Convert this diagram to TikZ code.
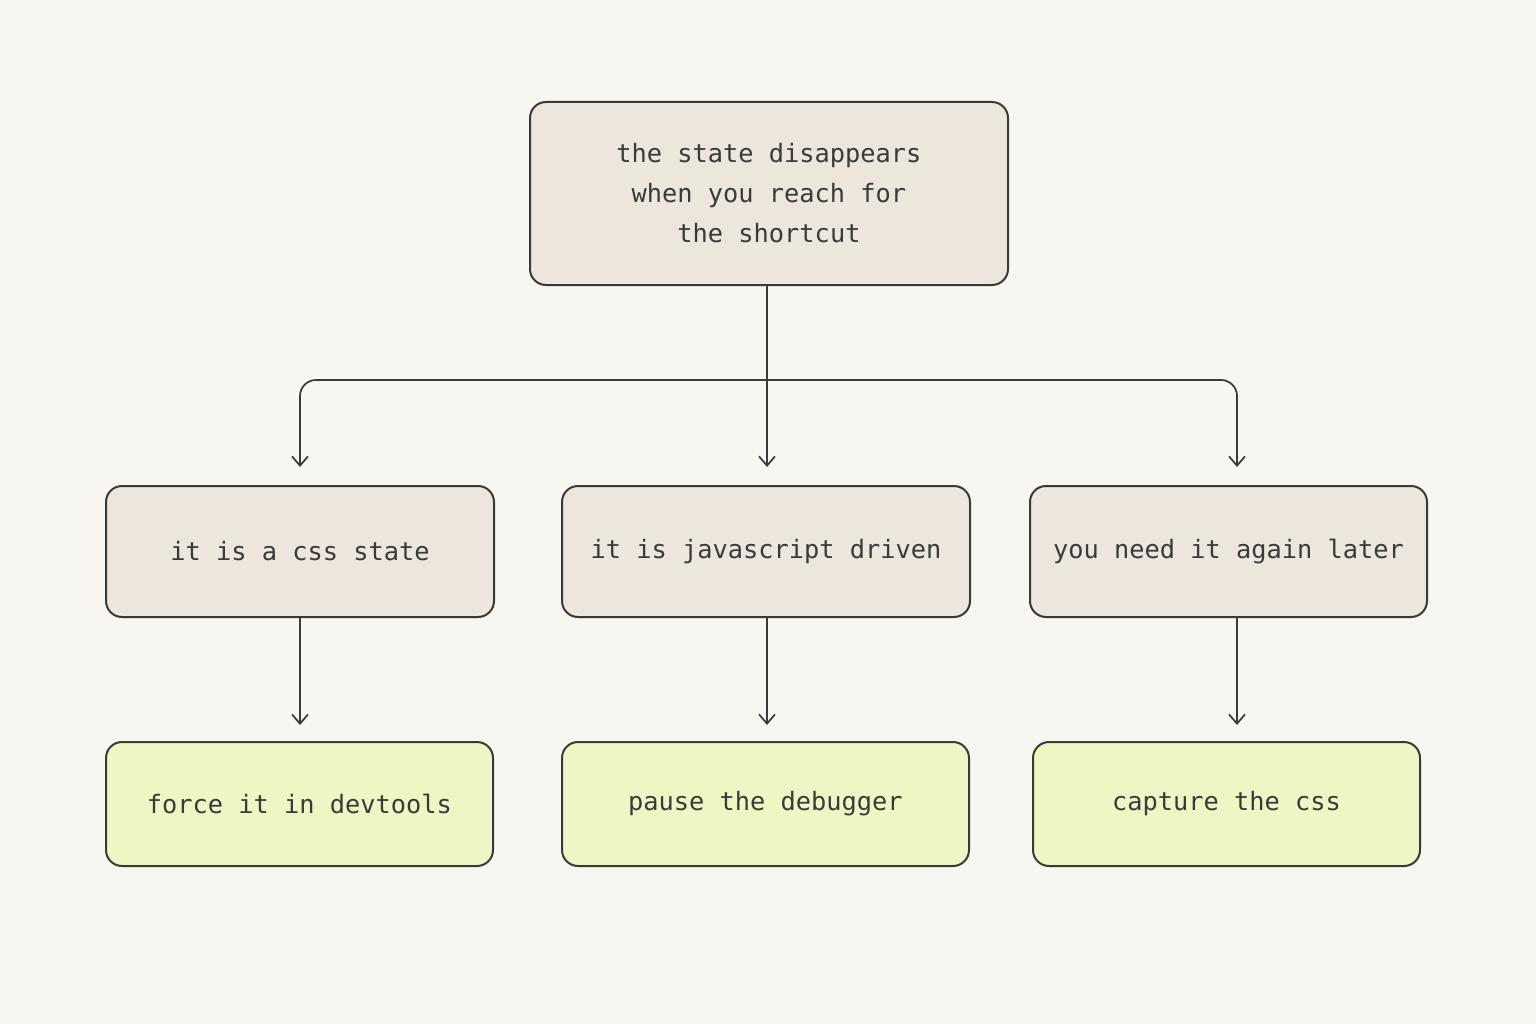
\documentclass[tikz,border=0pt]{standalone}
\usepackage{fontspec}
\setmonofont{DejaVu Sans Mono}
\usetikzlibrary{arrows.meta}
\definecolor{bg}{HTML}{F8F6F0}
\definecolor{boxf}{HTML}{ECE6DC}
\definecolor{grn}{HTML}{EEF7C4}
\definecolor{ln}{HTML}{3A3A3A}
\begin{document}
\begin{tikzpicture}[x=0.75pt,y=-0.75pt,
  box/.style={draw=ln,line width=1.5pt,rounded corners=12pt,fill=boxf,align=center,
    font=\ttfamily\fontsize{19}{30}\selectfont,text=ln,inner sep=0pt},
  res/.style={box,fill=grn},
  arr/.style={draw=ln,line width=1.3pt,-{Straight Barb[length=7pt,width=12pt]}}]
\fill[bg] (0,0) rectangle (1536,1024);
\useasboundingbox (0,0) rectangle (1536,1024);
\node[box,minimum width=478*0.75pt,minimum height=183*0.75pt] (top) at (769,193.5) {the state disappears\\when you reach for\\the shortcut};
\node[box,minimum width=388*0.75pt,minimum height=131*0.75pt] (a) at (300,551.5) {it is a css state};
\node[box,minimum width=408*0.75pt,minimum height=131*0.75pt] (b) at (766,551.5) {it is javascript driven};
\node[box,minimum width=397*0.75pt,minimum height=131*0.75pt] (c) at (1228.5,551.5) {you need it again later};
\node[res,minimum width=387*0.75pt,minimum height=124*0.75pt] (a2) at (299.5,804) {force it in devtools};
\node[res,minimum width=407*0.75pt,minimum height=124*0.75pt] (b2) at (765.5,804) {pause the debugger};
\node[res,minimum width=387*0.75pt,minimum height=124*0.75pt] (c2) at (1226.5,804) {capture the css};
\coordinate (ta) at (300,467);
\coordinate (tb) at (767,467);
\coordinate (tc) at (1237,467);
\draw[arr] (top.south -| tb) -- (tb);
\draw[arr,rounded corners=12pt] (767,380) -- (300,380) -- (ta);
\draw[arr,rounded corners=12pt] (767,380) -- (1237,380) -- (tc);
\coordinate (ea) at (300,725);
\coordinate (eb) at (767,725);
\coordinate (ec) at (1237,725);
\draw[arr] (a.south -| ea) -- (ea);
\draw[arr] (b.south -| eb) -- (eb);
\draw[arr] (c.south -| ec) -- (ec);
\end{tikzpicture}
\end{document}
